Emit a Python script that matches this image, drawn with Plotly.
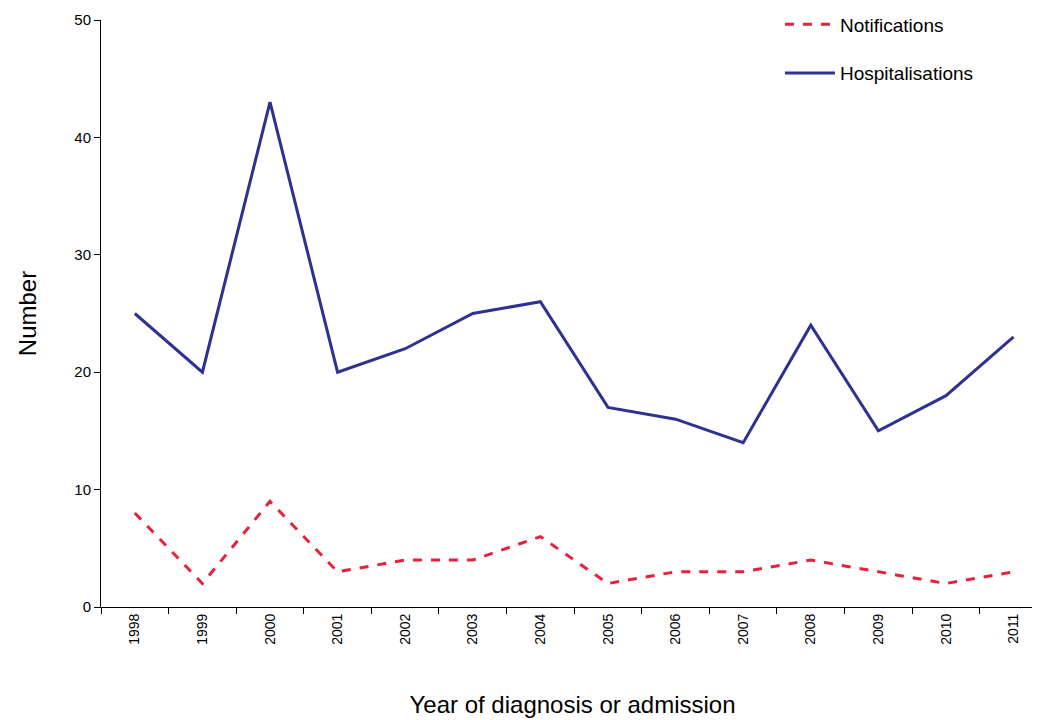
import plotly.graph_objects as go

years = ["1998","1999","2000","2001","2002","2003","2004","2005","2006","2007","2008","2009","2010","2011"]
notifications = [8,2,9,3,4,4,6,2,3,3,4,3,2,3]
hospitalisations = [25,20,43,20,22,25,26,17,16,14,24,15,18,23]

fig = go.Figure()
fig.add_trace(go.Scatter(x=years, y=notifications, mode="lines", name="Notifications",
                         legendgroup="a", line=dict(color="#E8203A", width=3, dash="dash")))
fig.add_trace(go.Scatter(x=years, y=hospitalisations, mode="lines", name="Hospitalisations",
                         legendgroup="b", line=dict(color="#2E3192", width=3)))
fig.update_layout(
    width=1040, height=720, plot_bgcolor="white", paper_bgcolor="white",
    margin=dict(l=93, r=4, t=12, b=121, autoexpand=False),
    font=dict(family="Liberation Sans, Arial", color="black"),
    legend=dict(x=0.72, y=1.025, xanchor="left", yanchor="top", bgcolor="rgba(0,0,0,0)",
                traceorder="grouped", font=dict(size=19), tracegroupgap=21, itemwidth=50),
    xaxis=dict(type="category", range=[-0.5, 13.45], tickson="boundaries", ticks="outside",
               ticklen=6, tickcolor="black", showline=True, linecolor="black", linewidth=1,
               showgrid=False, tickangle=-90, tickfont=dict(size=14), automargin=False,
               title=dict(text="Year of diagnosis or admission", font=dict(size=24), standoff=52)),
    yaxis=dict(range=[0, 50], dtick=10, ticks="outside", ticklen=6, tickcolor="black",
               showline=True, linecolor="black", linewidth=1, showgrid=False, zeroline=False,
               tickfont=dict(size=15), automargin=False,
               title=dict(text="Number", font=dict(size=24), standoff=30)),
)
fig.write_html("out.html")
